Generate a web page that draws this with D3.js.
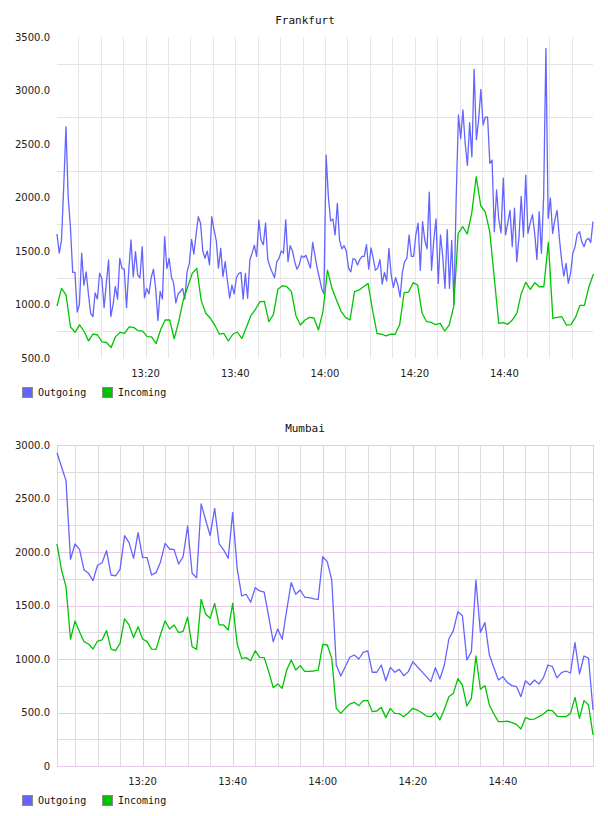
<!DOCTYPE html>
<html>
<head>
<meta charset="utf-8">
<script src="https://cdnjs.cloudflare.com/ajax/libs/d3/7.8.5/d3.min.js"></script>
<style>
  body { margin: 0; background: #fff; }
  text { font-family: "DejaVu Sans", sans-serif; }
</style>
</head>
<body>
<div id="chartContainer"></div>
<script>
// Frankfurt: outgoing every 30 s, incoming every minute
var fraOutgoing = [
  1659, 1480, 1600, 2100, 2662, 2000, 1720, 1300, 1300, 930,
  1000, 1480, 1181, 1305, 1100, 918, 887, 1108, 1050, 1292,
  1243, 970, 1200, 1416, 887, 1000, 1170, 1050, 1431, 1336,
  1330, 970, 1320, 1603, 1259, 1494, 1274, 1250, 1540, 1062,
  1150, 1100, 1250, 1330, 1150, 850, 1123, 1050, 1634, 1336,
  1430, 1260, 1200, 1015, 1100, 1120, 1150, 1050, 1305, 1385,
  1609, 1470, 1650, 1820, 1760, 1500, 1432, 1500, 1370, 1821,
  1700, 1600, 1340, 1525, 1260, 1400, 1220, 1060, 1180, 1100,
  1250, 1290, 1300, 1050, 1290, 1058, 1416, 1480, 1555, 1450,
  1790, 1600, 1560, 1760, 1420, 1350, 1300, 1250, 1400, 1432,
  1500, 1480, 1790, 1400, 1550, 1500, 1400, 1330, 1370, 1455,
  1440, 1460, 1400, 1340, 1580, 1460, 1340, 1250, 1150, 1100,
  2397, 2008, 1780, 1800, 1650, 1946, 1600, 1520, 1550, 1500,
  1340, 1305, 1430, 1420, 1370, 1420, 1450, 1450, 1560, 1330,
  1530, 1430, 1320, 1340, 1420, 1190, 1300, 1220, 1525, 1280,
  1160, 1250, 1180, 1070, 1300, 1400, 1430, 1650, 1450, 1450,
  1650, 1760, 1320, 1774, 1600, 1520, 2050, 1320, 1600, 1800,
  1197, 1650, 1450, 1150, 1700, 1150, 1600, 1000, 2000, 2771,
  2550, 2818, 2507, 2300, 2700, 2380, 3198, 2540, 2725, 3011,
  2680, 2750, 2750, 2320, 2350, 1680, 2070, 1790, 1670, 2180,
  1650, 1760, 1880, 1540, 1900, 1400, 1630, 2010, 1630, 2210,
  1665, 1760, 1840, 1665, 1420, 1867, 1480, 2010, 3394, 1805,
  1995, 1665, 1790, 1880, 1620, 1416, 1265, 1385, 1197, 1290,
  1478, 1540, 1660, 1680, 1587, 1540, 1603, 1618, 1580, 1775
];
var fraIncoming = [
  986, 1150, 1090, 790, 740, 810, 750, 660, 725, 715,
  650, 645, 597, 700, 740, 730, 790, 786, 755, 752,
  700, 697, 635, 767, 855, 855, 680, 840, 1040, 1166,
  1291, 1338, 1036, 918, 872, 808, 724, 730, 659, 722,
  743, 683, 786, 895, 953, 1026, 1030, 839, 905, 1142,
  1176, 1166, 1120, 895, 808, 855, 880, 874, 762, 933,
  1322, 1151, 1043, 939, 880, 855, 1120, 1135, 1166, 1197,
  948, 730, 722, 706, 724, 722, 808, 1110, 1116, 1204,
  1182, 918, 839, 833, 811, 824, 752, 808, 980, 1665,
  1727, 1659, 1852, 2194, 1923, 1866, 1681, 1250, 824, 830,
  815, 855, 918, 1104, 1207, 1142, 1204, 1166, 1166, 1581,
  871, 880, 886, 808, 811, 877, 992, 992, 1166, 1285
];

// Mumbai: both series every minute
var bomOutgoing = [
  2928, 2797, 2667, 1932, 2075, 2025, 1832, 1801, 1732, 1876,
  1900, 2012, 1785, 1776, 1838, 2153, 2087, 1941, 2181, 1950,
  1947, 1785, 1807, 1910, 2081, 2028, 2022, 1888, 1956, 2243,
  1801, 1760, 2449, 2299, 2153, 2408, 2075, 2019, 1941, 2368,
  1847, 1589, 1605, 1530, 1667, 1636, 1626, 1396, 1162, 1280,
  1184, 1458, 1713, 1605, 1645, 1577, 1574, 1561, 1558, 1956,
  1910, 1738, 944, 841, 928, 1016, 1037, 1000, 1062, 1075,
  876, 876, 944, 797, 922, 876, 903, 844, 882, 975,
  928, 882, 835, 788, 919, 813, 944, 1187, 1265, 1442,
  1405, 991, 1069, 1738, 1249, 1340, 1037, 919, 804, 835,
  779, 751, 742, 648, 797, 757, 804, 766, 826, 944,
  928, 823, 872, 888, 869, 1153, 860, 1028, 1009, 523
];
var bomIncoming = [
  2075, 1832, 1676, 1184, 1355, 1255, 1162, 1140, 1093, 1168,
  1178, 1265, 1093, 1078, 1147, 1374, 1318, 1200, 1302, 1187,
  1162, 1093, 1090, 1231, 1355, 1280, 1318, 1246, 1258, 1390,
  1115, 1090, 1558, 1421, 1380, 1520, 1318, 1318, 1271, 1520,
  1140, 1006, 1013, 984, 1078, 1016, 1013, 882, 732, 766,
  726, 897, 991, 897, 938, 885, 885, 888, 897, 1137,
  1131, 1006, 539, 492, 539, 579, 595, 564, 611, 611,
  508, 514, 548, 452, 539, 492, 489, 461, 498, 539,
  523, 498, 467, 461, 498, 430, 530, 648, 679, 816,
  757, 561, 632, 1028, 717, 751, 570, 486, 414, 414,
  420, 405, 389, 346, 452, 436, 439, 461, 486, 523,
  517, 467, 461, 461, 492, 642, 445, 611, 570, 290
];

var seriesNames = ["Outgoing", "Incoming"];
var seriesColors = ["#6464ff", "#00c400"];

var fraYTicks = [500, 1000, 1500, 2000, 2500, 3000, 3500];
var bomYTicks = [0, 500, 1000, 1500, 2000, 2500, 3000];

function t(h, m, s) { return new Date(2013, 0, 1, h, m, s || 0); }

// sample times for a series
function stamp(values, start, stepSec) {
  return values.map(function(v, i) {
    return { t: new Date(start.getTime() + i * stepSec * 1000), v: v };
  });
}

var svg = d3.select("#chartContainer").append("svg")
  .attr("width", 608).attr("height", 816);

function drawChart(c) {
  var left = 57, right = 593, bottom = c.bottom, top = c.bottom - 321;
  var g = svg.append("g");

  var x = d3.scaleTime().domain(c.xDomain).range([left, right]);
  var y = d3.scaleLinear().domain(c.yDomain).range([bottom, top]);

  var minutes5 = d3.timeMinute.every(5).range(c.xDomain[0], c.xDomain[1]);
  var minutes20 = d3.timeMinute.every(20).range(c.xDomain[0], c.xDomain[1]);

  if (!c.framed) {
    // plain grey grid, horizontal lines half way between labels
    var hg = d3.range(fraYTicks[0] + 250, fraYTicks[fraYTicks.length - 1], 500);
    g.selectAll("line.h").data(hg).enter().append("line")
      .attr("x1", left).attr("x2", right)
      .attr("y1", function(d){ return Math.round(y(d)) + 0.5; })
      .attr("y2", function(d){ return Math.round(y(d)) + 0.5; })
      .attr("stroke", "#e3e3e3");
    g.selectAll("line.v").data(minutes5).enter().append("line")
      .attr("y1", top).attr("y2", bottom)
      .attr("x1", function(d){ return Math.round(x(d)) + 0.5; })
      .attr("x2", function(d){ return Math.round(x(d)) + 0.5; })
      .attr("stroke", "#e6e6e6");
  } else {
    var hAll = d3.range(c.yDomain[0], c.yDomain[1] + 1, 250);
    var minorH = hAll.filter(function(d){ return d % 500 != 0; });
    var majorH = hAll.filter(function(d){ return d % 500 == 0; });
    var minorV = minutes5.filter(function(d){ return d.getMinutes() % 20 != 0; });
    var majorV = minutes20.concat([]);
    var minor = "#e2dbe2", major = "#e8c9e8";

    g.selectAll("line.hm").data(minorH).enter().append("line")
      .attr("x1", left).attr("x2", right)
      .attr("y1", function(d){ return Math.round(y(d)) + 0.5; })
      .attr("y2", function(d){ return Math.round(y(d)) + 0.5; })
      .attr("stroke", minor);
    g.selectAll("line.vm").data(minorV).enter().append("line")
      .attr("y1", top).attr("y2", bottom)
      .attr("x1", function(d){ return Math.round(x(d)) + 0.5; })
      .attr("x2", function(d){ return Math.round(x(d)) + 0.5; })
      .attr("stroke", minor);
    g.selectAll("line.hM").data(majorH).enter().append("line")
      .attr("x1", left).attr("x2", right + 1)
      .attr("y1", function(d){ return Math.round(y(d)) + 0.5; })
      .attr("y2", function(d){ return Math.round(y(d)) + 0.5; })
      .attr("stroke", major);
    g.selectAll("line.vM").data(majorV.concat(c.xDomain)).enter().append("line")
      .attr("y1", top).attr("y2", bottom)
      .attr("x1", function(d){ return Math.round(x(d)) + 0.5; })
      .attr("x2", function(d){ return Math.round(x(d)) + 0.5; })
      .attr("stroke", major);
  }

  // y labels
  g.selectAll("text.yl").data(c.yTicks).enter().append("text")
    .attr("x", 50).attr("y", function(d){ return y(d); })
    .attr("dy", "0.35em")
    .attr("text-anchor", "end")
    .style("font-size", "10px").style("fill", "#222")
    .text(c.yFormat);

  // x labels
  g.selectAll("text.xl").data(minutes20).enter().append("text")
    .attr("x", function(d){ return x(d); })
    .attr("y", bottom + 19)
    .attr("text-anchor", "middle")
    .style("font-size", "10px").style("fill", "#222")
    .text(d3.timeFormat("%H:%M"));

  // title
  g.append("text")
    .attr("x", 305).attr("y", top - 13)
    .attr("text-anchor", "middle")
    .style("font-family", "'DejaVu Sans Mono', monospace")
    .style("font-size", "11px").style("fill", "#111")
    .text(c.title);

  var line = d3.line()
    .x(function(d){ return x(d.t); })
    .y(function(d){ return y(d.v); });

  c.series.forEach(function(s, i) {
    g.append("path")
      .datum(s)
      .attr("d", line)
      .attr("fill", "none")
      .attr("stroke", seriesColors[i])
      .attr("stroke-width", 1.3)
      .attr("stroke-linejoin", "round");
  });

  // legend
  var lg = g.append("g").attr("transform", "translate(0," + (bottom + 29) + ")");
  seriesNames.forEach(function(name, i) {
    var lx = 22 + i * 80;
    lg.append("rect")
      .attr("x", lx + 0.5).attr("y", 0.5)
      .attr("width", 10).attr("height", 10)
      .attr("fill", seriesColors[i])
      .attr("stroke", "#8a8a8a");
    lg.append("text")
      .attr("x", lx + 16).attr("y", 9)
      .style("font-family", "'DejaVu Sans Mono', monospace")
      .style("font-size", "10px").style("fill", "#111")
      .text(name);
  });
}

var fmt = d3.format(".1f");

drawChart({
  title: "Frankfurt",
  bottom: 358,
  framed: false,
  xDomain: [t(13, 0, 15), t(14, 59, 45)],
  yDomain: [500, 3500],
  yTicks: fraYTicks,
  yFormat: fmt,
  series: [stamp(fraOutgoing, t(13, 0, 15), 30), stamp(fraIncoming, t(13, 0, 15), 60.3)]
});

drawChart({
  title: "Mumbai",
  bottom: 766,
  framed: true,
  xDomain: [t(13, 1), t(15, 0)],
  yDomain: [0, 3000],
  yTicks: bomYTicks,
  yFormat: function(d){ return d == 0 ? "0" : fmt(d); },
  series: [stamp(bomOutgoing, t(13, 1), 60), stamp(bomIncoming, t(13, 1), 60)]
});
</script>
</body>
</html>
